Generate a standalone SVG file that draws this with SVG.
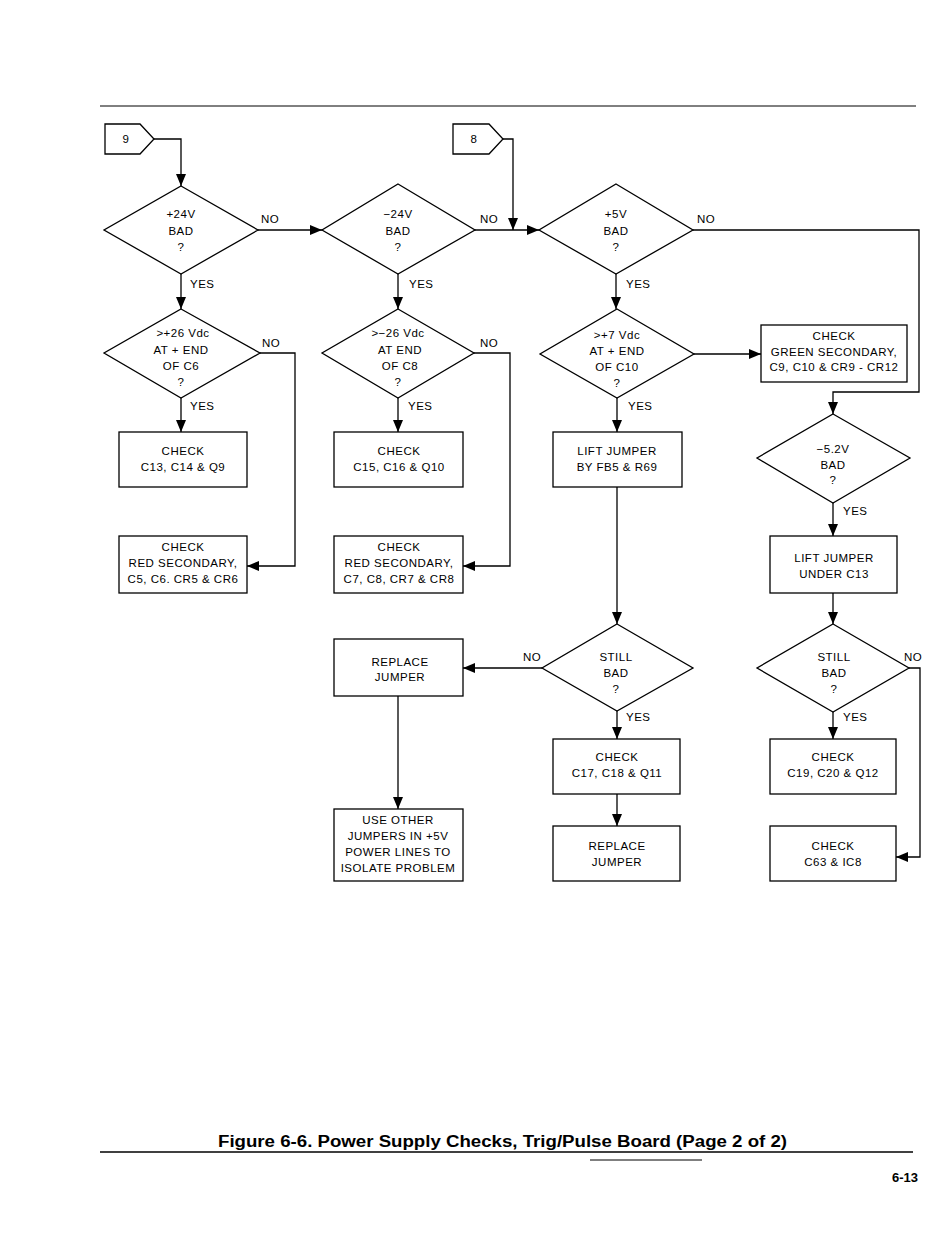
<svg xmlns="http://www.w3.org/2000/svg" width="950" height="1239" viewBox="0 0 950 1239">
<style>
.s{fill:#fff;stroke:#000;stroke-width:1.3}
.c{fill:none;stroke:#000;stroke-width:1.3}
text{font-family:"Liberation Sans",Arial,sans-serif;font-size:11.5px;fill:#000;letter-spacing:0.5px}
.m{text-anchor:middle}
.cap{font-size:16px;font-weight:bold;letter-spacing:0}
</style>
<defs>
<marker id="a" markerUnits="userSpaceOnUse" markerWidth="12" markerHeight="10" refX="12" refY="5" orient="auto">
<path d="M0,0 L12,5 L0,10 z" fill="#000"/>
</marker>
</defs>
<rect width="950" height="1239" fill="#fff"/>
<line x1="100" y1="106" x2="916" y2="106" stroke="#000" stroke-width="1"/>

<g id="connectors" class="c" marker-end="url(#a)">
<path d="M154,139 H181 V186"/>
<path d="M258,230 H322"/>
<path d="M475,230 H539"/>
<path d="M503,139 H513 V230"/>
<path d="M693,230 H919 V392 H833 V414"/>
<path d="M181,274 V309"/>
<path d="M398,274 V309"/>
<path d="M616,274 V309"/>
<path d="M181,398 V432"/>
<path d="M260,353 H295 V566 H247"/>
<path d="M398,398 V432"/>
<path d="M474,353 H510 V566 H463"/>
<path d="M617,398 V432"/>
<path d="M694,354 H761"/>
<path d="M617,487 V624"/>
<path d="M542,668 H463"/>
<path d="M398,696 V809"/>
<path d="M617,711 V739"/>
<path d="M617,794 V826"/>
<path d="M833,503 V536"/>
<path d="M833,593 V624"/>
<path d="M833,712 V739"/>
<path d="M909,668 H920 V857 H896"/>
</g>

<g id="labels">
<text x="261" y="223">NO</text>
<text x="480" y="223">NO</text>
<text x="697" y="223">NO</text>
<text x="262" y="347">NO</text>
<text x="480" y="347">NO</text>
<text x="523" y="661">NO</text>
<text x="904" y="661">NO</text>
<text x="190" y="288">YES</text>
<text x="409" y="288">YES</text>
<text x="626" y="288">YES</text>
<text x="190" y="410">YES</text>
<text x="408" y="410">YES</text>
<text x="628" y="410">YES</text>
<text x="843" y="515">YES</text>
<text x="626" y="721">YES</text>
<text x="843" y="721">YES</text>
</g>

<g id="c9"><polygon class="s" points="105,124 140,124 154,139 140,154 105,154"/><text class="m" x="126" y="143">9</text></g>
<g id="c8"><polygon class="s" points="453,124 489,124 503,139 489,154 453,154"/><text class="m" x="474" y="143">8</text></g>

<g id="d24"><polygon class="s" points="181,186 258,230 181,274 104,230"/>
<text class="m" x="181" y="218">+24V</text><text class="m" x="181" y="235">BAD</text><text class="m" x="181" y="251">?</text></g>
<g id="dm24"><polygon class="s" points="398,184 475,230 398,274 322,230"/>
<text class="m" x="398" y="218">−24V</text><text class="m" x="398" y="235">BAD</text><text class="m" x="398" y="251">?</text></g>
<g id="d5"><polygon class="s" points="616,184 693,230 616,274 539,230"/>
<text class="m" x="616" y="218">+5V</text><text class="m" x="616" y="235">BAD</text><text class="m" x="616" y="251">?</text></g>

<g id="d26"><polygon class="s" points="181,309 260,353 181,398 104,353"/>
<text class="m" x="183" y="337">&gt;+26 Vdc</text><text class="m" x="181" y="354">AT + END</text><text class="m" x="181" y="370">OF C6</text><text class="m" x="181" y="386">?</text></g>
<g id="dm26"><polygon class="s" points="398,309 474,353 398,398 322,353"/>
<text class="m" x="398" y="337">&gt;−26 Vdc</text><text class="m" x="400" y="354">AT END</text><text class="m" x="400" y="370">OF C8</text><text class="m" x="398" y="386">?</text></g>
<g id="d7"><polygon class="s" points="617,309 694,354 617,398 540,354"/>
<text class="m" x="617" y="339">&gt;+7 Vdc</text><text class="m" x="617" y="355">AT + END</text><text class="m" x="617" y="371">OF C10</text><text class="m" x="617" y="387">?</text></g>

<g id="b13"><rect class="s" x="119" y="432" width="128" height="55"/>
<text class="m" x="183" y="455">CHECK</text><text class="m" x="183" y="471">C13, C14 &amp; Q9</text></g>
<g id="b15"><rect class="s" x="334" y="432" width="129" height="55"/>
<text class="m" x="399" y="455">CHECK</text><text class="m" x="399" y="471">C15, C16 &amp; Q10</text></g>
<g id="bfb5"><rect class="s" x="553" y="432" width="129" height="55"/>
<text class="m" x="617" y="455">LIFT JUMPER</text><text class="m" x="617" y="471">BY FB5 &amp; R69</text></g>

<g id="bred1"><rect class="s" x="119" y="536" width="128" height="57"/>
<text class="m" x="183" y="551">CHECK</text><text class="m" x="183" y="567">RED SECONDARY,</text><text class="m" x="183" y="583">C5, C6. CR5 &amp; CR6</text></g>
<g id="bred2"><rect class="s" x="334" y="536" width="129" height="57"/>
<text class="m" x="399" y="551">CHECK</text><text class="m" x="399" y="567">RED SECONDARY,</text><text class="m" x="399" y="583">C7, C8, CR7 &amp; CR8</text></g>

<g id="bgreen"><rect class="s" x="761" y="325" width="146" height="57"/>
<text class="m" x="834" y="340">CHECK</text><text class="m" x="834" y="356">GREEN SECONDARY,</text><text class="m" x="834" y="371">C9, C10 &amp; CR9 - CR12</text></g>

<g id="d52"><polygon class="s" points="833,414 910,458 833,503 757,458"/>
<text class="m" x="833" y="453">−5.2V</text><text class="m" x="833" y="469">BAD</text><text class="m" x="833" y="484">?</text></g>
<g id="bc13"><rect class="s" x="770" y="536" width="127" height="57"/>
<text class="m" x="834" y="562">LIFT JUMPER</text><text class="m" x="834" y="578">UNDER C13</text></g>

<g id="ds1"><polygon class="s" points="617,624 693,668 617,711 542,668"/>
<text class="m" x="616" y="661">STILL</text><text class="m" x="616" y="677">BAD</text><text class="m" x="616" y="693">?</text></g>
<g id="ds2"><polygon class="s" points="833,624 909,668 833,712 757,668"/>
<text class="m" x="834" y="661">STILL</text><text class="m" x="834" y="677">BAD</text><text class="m" x="834" y="693">?</text></g>

<g id="brep1"><rect class="s" x="334" y="639" width="129" height="57"/>
<text class="m" x="400" y="666">REPLACE</text><text class="m" x="400" y="681">JUMPER</text></g>
<g id="buse"><rect class="s" x="334" y="809" width="129" height="72"/>
<text class="m" x="398" y="824">USE OTHER</text><text class="m" x="398" y="840">JUMPERS IN +5V</text><text class="m" x="398" y="856">POWER LINES TO</text><text class="m" x="398" y="872">ISOLATE PROBLEM</text></g>
<g id="b17"><rect class="s" x="553" y="739" width="127" height="55"/>
<text class="m" x="617" y="761">CHECK</text><text class="m" x="617" y="777">C17, C18 &amp; Q11</text></g>
<g id="brep2"><rect class="s" x="553" y="826" width="127" height="55"/>
<text class="m" x="617" y="850">REPLACE</text><text class="m" x="617" y="866">JUMPER</text></g>
<g id="b19"><rect class="s" x="770" y="739" width="126" height="55"/>
<text class="m" x="833" y="761">CHECK</text><text class="m" x="833" y="777">C19, C20 &amp; Q12</text></g>
<g id="b63"><rect class="s" x="770" y="826" width="126" height="55"/>
<text class="m" x="833" y="850">CHECK</text><text class="m" x="833" y="866">C63 &amp; IC8</text></g>

<g id="footer">
<text class="cap" x="218" y="1147" textLength="569" lengthAdjust="spacingAndGlyphs">Figure 6-6. Power Supply Checks, Trig/Pulse Board (Page 2 of 2)</text>
<line x1="100" y1="1152" x2="913" y2="1152" stroke="#000" stroke-width="1.5"/>
<line x1="590" y1="1160" x2="702" y2="1160" stroke="#000" stroke-width="1"/>
<text x="918" y="1182" style="text-anchor:end;font-size:13px;font-weight:bold;letter-spacing:0">6-13</text>
</g>
</svg>
